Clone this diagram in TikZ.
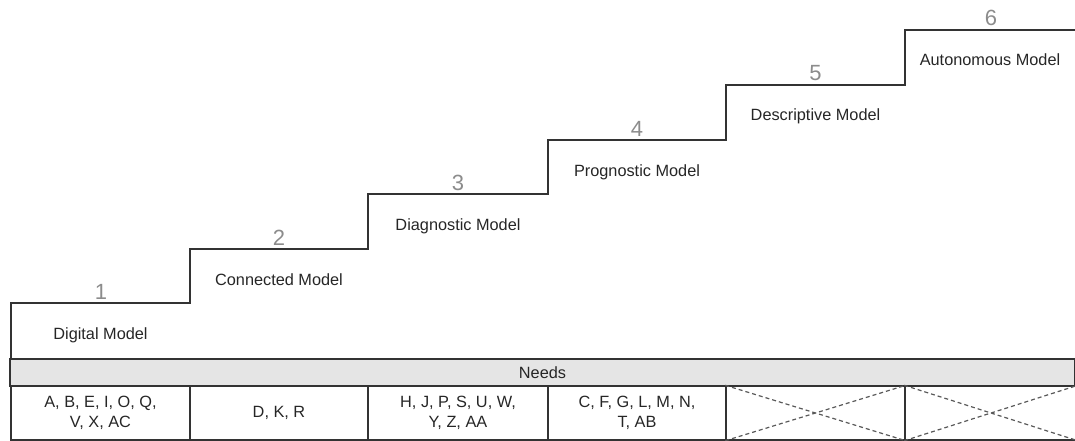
\documentclass[tikz,border=0pt]{standalone}
\usepackage{fontspec}
\setmainfont{Liberation Sans}
\begin{document}
\begin{tikzpicture}[x=1pt,y=-1pt,
  stair/.style={draw=black!80,line width=1.4pt,line join=miter},
  stepnum/.style={anchor=base,text=black!45,font=\fontsize{22}{24}\selectfont},
  steplabel/.style={anchor=base,text=black!85,font=\fontsize{16.3}{18}\selectfont},
  bar/.style={draw=black!80,fill=black!10,line width=1.4pt,inner sep=0pt,
    minimum width=1065pt,minimum height=27pt,text=black!85,font=\fontsize{16.3}{18}\selectfont},
  cell/.style={draw=black!80,line width=1.4pt,inner sep=0pt,minimum height=54pt,
    align=center,text=black!85,font=\fontsize{16.3}{19.5}\selectfont},
  cross/.style={draw=black!65,line width=1.2pt,dash pattern=on 4pt off 3pt}]
\useasboundingbox (0,0) rectangle (1075,441);

% staircase outline
\coordinate (s0) at (11,359);
\coordinate (s1) at (11,303);
\coordinate (s2) at (190,303);
\coordinate (s3) at (190,249);
\coordinate (s4) at (368,249);
\coordinate (s5) at (368,194);
\coordinate (s6) at (548,194);
\coordinate (s7) at (548,140);
\coordinate (s8) at (726,140);
\coordinate (s9) at (726,85);
\coordinate (s10) at (905,85);
\coordinate (s11) at (905,30);
\coordinate (s12) at (1076,30);
\draw[stair] (s0) -- (s1) -- (s2) -- (s3) -- (s4) -- (s5) -- (s6) -- (s7)
  -- (s8) -- (s9) -- (s10) -- (s11) -- (s12);

% step numbers and names
\node[stepnum] (n1) at (101,299) {1};
\node[stepnum] (n2) at (279,245) {2};
\node[stepnum] (n3) at (458,190) {3};
\node[stepnum] (n4) at (637,136) {4};
\node[stepnum] (n5) at (815.5,81) {5};
\node[stepnum] (n6) at (991,26) {6};

\node[steplabel] (l1) at (100.5,339) {Digital Model};
\node[steplabel] (l2) at (279,285) {Connected Model};
\node[steplabel] (l3) at (458,230) {Diagnostic Model};
\node[steplabel] (l4) at (637,176) {Prognostic Model};
\node[steplabel] (l5) at (815.5,121) {Descriptive Model};
\node[steplabel] (l6) at (990,66) {Autonomous Model};

% needs table
\node[bar] (needs) at (542.5,372.5) {Needs};
\node[cell,minimum width=179pt] (c1) at (100.5,413) {A, B, E, I, O, Q,\\V, X, AC};
\node[cell,minimum width=178pt] (c2) at (279,413) {D, K, R};
\node[cell,minimum width=180pt] (c3) at (458,413) {H, J, P, S, U, W,\\Y, Z, AA};
\node[cell,minimum width=178pt] (c4) at (637,413) {C, F, G, L, M, N,\\T, AB};
\node[cell,minimum width=179pt] (c5) at (815.5,413) {};
\node[cell,minimum width=172pt] (c6) at (991,413) {};
\draw[cross] (c5.north west) -- (c5.south east) (c5.south west) -- (c5.north east);
\draw[cross] (c6.north west) -- (c6.south east) (c6.south west) -- (c6.north east);
\end{tikzpicture}
\end{document}
